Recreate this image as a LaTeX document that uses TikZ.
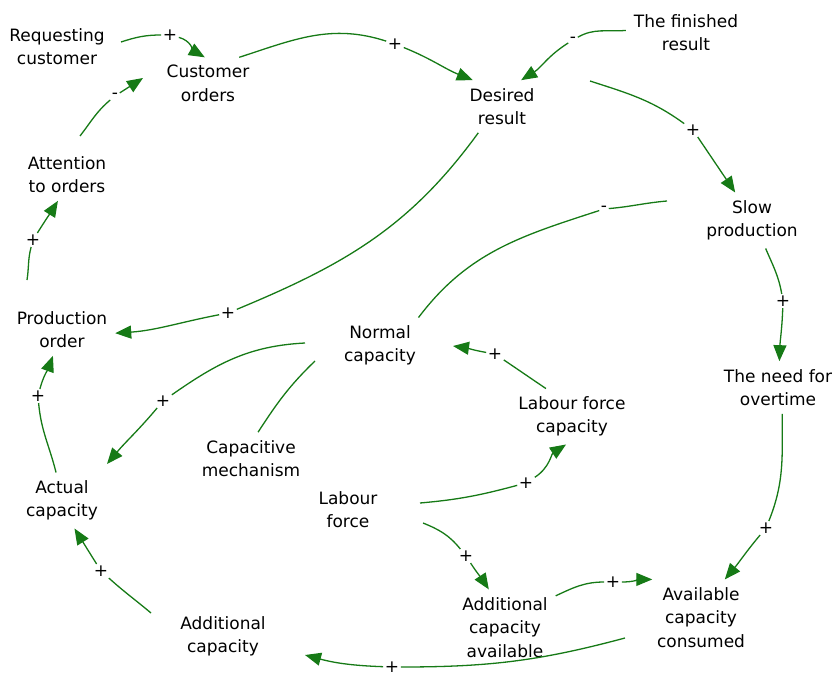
\documentclass[tikz,border=0pt]{standalone}
\usepackage{fontspec}
\setmainfont{DejaVu Sans}
\usetikzlibrary{arrows.meta,calc}
\definecolor{lgreen}{RGB}{22,122,22}
\begin{document}
\begin{tikzpicture}[x=1pt,y=1pt,
  var/.style={align=center, inner sep=5pt, outer sep=3pt, font=\fontsize{17}{23.5}\selectfont},
  sgn/.style={inner sep=1.5pt, font=\fontsize{17}{20}\selectfont},
  link/.style={draw=lgreen, line width=1.3pt},
  arr/.style={link, -{Triangle[length=16pt,width=13pt]}}]
\useasboundingbox (0,0) rectangle (835,-677);

% variables
\node[var] (rc)  at (57,-46.5)  {Requesting\\customer};
\node[var] (co)  at (208,-83.5) {Customer\\orders};
\node[var] (dr)  at (502,-106.5) {Desired\\result};
\node[var] (fr)  at (686,-32.5) {The finished\\result};
\node[var] (sp)  at (752,-220.5) {Slow\\production};
\node[var] (no)  at (778,-387.5) {The need for\\overtime};
\node[var] (ao)  at (67,-174.5) {Attention\\to orders};
\node[var] (po)  at (62,-329.5) {Production\\order};
\node[var] (nc)  at (380,-345.5) {Normal\\capacity};
\node[var] (lfc) at (572,-416.5) {Labour force\\capacity};
\node[var] (cm)  at (251,-458.5) {Capacitive\\mechanism};
\node[var] (ac)  at (62,-500.5) {Actual\\capacity};
\node[var] (lf)  at (348,-509.5) {Labour\\force};
\node[var] (aca) at (505,-627.5) {Additional\\capacity\\available};
\node[var] (acc) at (701,-617.5) {Available\\capacity\\consumed};
\node[var] (adc) at (223,-636.5) {Additional\\capacity};

% polarity signs
\node[sgn] (s1)  at (170,-35)  {+};
\node[sgn] (s2)  at (395,-44)  {+};
\node[sgn] (s3)  at (573,-40)  {-};
\node[sgn] (s4)  at (693,-130) {+};
\node[sgn] (s5)  at (115,-96)  {-};
\node[sgn] (s6)  at (33,-240)  {+};
\node[sgn] (s7)  at (228,-313) {+};
\node[sgn] (s8)  at (604,-209) {-};
\node[sgn] (s9)  at (783,-301) {+};
\node[sgn] (s10) at (163,-401) {+};
\node[sgn] (s12) at (495,-354) {+};
\node[sgn] (s13) at (526,-483) {+};
\node[sgn] (s14) at (466,-556) {+};
\node[sgn] (s15) at (613,-582) {+};
\node[sgn] (s16) at (766,-528) {+};
\node[sgn] (s17) at (392,-667) {+};
\node[sgn] (s18) at (101,-571) {+};
\node[sgn] (s19) at (38,-396)  {+};

% connectors
\draw[link] ($(rc)+(64,4.5)$) to[out=18,in=180] (s1);
\draw[arr]  (s1) to[out=-15,in=150] (co.97);

\draw[link] (co.40) to[out=18,in=162] (s2);
\draw[arr]  (s2) to[out=-22,in=158] (dr.138);

\draw[link] (fr.178) to[out=185,in=30] (s3);
\draw[arr]  (s3) to[out=212,in=32] (dr.54);

\draw[link] ($(dr)+(88,25.5)$) to[out=-18,in=144] (s4);
\draw[arr]  (s4) to[out=-56,in=124] (sp.121.5);

\draw[link] ($(ao)+(13,38.5)$) to[out=52,in=220] (s5);
\draw[arr]  (s5) to[out=33,in=213] ($(co)+(-65,5.5)$);

\draw[link] ($(po)+(-35,49.5)$) to[out=81,in=-105] (s6);
\draw[arr]  (s6) to[out=58,in=238] (ao.-109);

\draw[link] (dr.228) to[out=234,in=22.6] (s7);
\draw[arr]  (s7) to[out=191,in=4] (po.-4.5);

\draw[link] ($(sp)+(-85,19.5)$) to[out=185,in=5] (s8);
\draw[link] (s8) to[out=198,in=53] (nc.36);

\draw[link] (sp.-64) to[out=-67,in=100] (s9);
\draw[arr]  (s9) to[out=-92,in=88] (no.87);

\draw[link] ($(nc)+(-75,2.5)$) to[out=183,in=35] (s10);
\draw[arr]  (s10) to[out=230,in=50] ($(ac)+(45,36.5)$);

\draw[link] ($(nc)+(-65,-15.5)$) to[out=224,in=57] (cm.75);

\draw[link] (lfc.133) to[out=146,in=-34] (s12);
\draw[arr]  (s12) to[out=170,in=-8] ($(nc)+(73,-0.5)$);

\draw[link] ($(lf)+(72,6.5)$) to[out=5,in=195] (s13);
\draw[arr]  (s13) to[out=33,in=213] (lfc.-102);

\draw[link] ($(lf)+(75,-13.5)$) to[out=-22,in=129] (s14);
\draw[arr]  (s14) to[out=-57,in=123] (aca.113);

\draw[link] (aca.32) to[out=25,in=180] (s15);
\draw[arr]  (s15) to[out=0,in=180] (acc.142);

\draw[link] (no.-81) to[out=-90,in=68] (s16);
\draw[arr]  (s16) to[out=230,in=50] (acc.58);

\draw[link] ($(acc)+(-76,-20.5)$) to[out=195,in=0] (s17);
\draw[arr]  (s17) to[out=178,in=-15] ($(adc)+(82,-18.5)$);

\draw[link] ($(adc)+(-72,23.5)$) to[out=140,in=-42] (s18);
\draw[arr]  (s18) to[out=122,in=-58] (ac.-66.7);

\draw[link] (ac.102) to[out=104,in=-85] (s19);
\draw[arr]  (s19) to[out=75,in=-110] (po.-109);
\end{tikzpicture}
\end{document}
